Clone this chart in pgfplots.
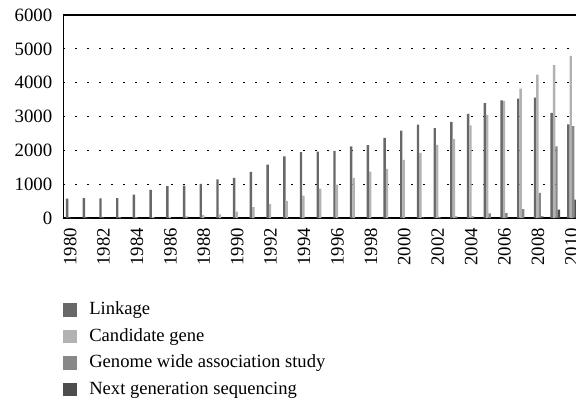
\documentclass[border=0pt]{standalone}
\usepackage{fontspec}
\setmainfont{Liberation Serif}
\usepackage{pgfplots}
\pgfplotsset{compat=1.18}
\definecolor{clink}{HTML}{686868}
\definecolor{ccand}{HTML}{B2B2B2}
\definecolor{cgwas}{HTML}{888888}
\definecolor{cngs}{HTML}{4D4D4D}
\begin{document}
\begin{tikzpicture}
\begin{axis}[
  at={(31.65pt,92pt)}, anchor=south west,
  scale only axis, width=258.35pt, height=101.5pt,
  xmin=1979.557, xmax=2010.48, ymin=0, ymax=6000,
  ytick={0,1000,...,6000},
  xtick={1980,1982,...,2010},
  /pgf/number format/assume math mode=true,
  x tick label style={/pgf/number format/1000 sep={}, xshift=-0.3pt, yshift=-1.5pt, rotate=90, anchor=east},
  y tick label style={/pgf/number format/1000 sep={}, xshift=-2pt},
  major tick length=0pt,
  axis line style={line width=0.7pt},
  ymajorgrids,
  grid style={black, line width=0.6pt, dash pattern=on 0.6pt off 5.4pt},
  tick label style={font=\fontsize{9.4}{11}\selectfont},
  ybar=0pt, bar width=1.2pt,
  legend image code/.code={\fill[#1,draw=none] (0pt,-3.35pt) rectangle (7pt,3.35pt); \path (13pt,0pt);},
  legend style={at={(0,-0.412)}, anchor=north west, draw=none, fill=none,
    inner sep=0pt, outer sep=0pt, row sep=5pt,
    font=\fontsize{9.3}{11}\selectfont,
    nodes={inner sep=0pt, text height=6.5pt, text depth=1.8pt}},
  legend cell align=left,
]
\addplot[fill=clink, draw=none] coordinates {
(1980,570) (1981,590) (1982,580) (1983,590) (1984,690) (1985,830) (1986,940)
(1987,960) (1988,1010) (1989,1145) (1990,1183) (1991,1360) (1992,1575) (1993,1820)
(1994,1948) (1995,1965) (1996,1985) (1997,2115) (1998,2155) (1999,2370) (2000,2580)
(2001,2760) (2002,2660) (2003,2840) (2004,3075) (2005,3395) (2006,3480) (2007,3530)
(2008,3555) (2009,3105) (2010,2770)};
\addplot[fill=ccand, draw=none] coordinates {
(1980,10) (1981,10) (1982,10) (1983,15) (1984,20) (1985,25) (1986,35)
(1987,60) (1988,85) (1989,110) (1990,185) (1991,320) (1992,410) (1993,508)
(1994,665) (1995,865) (1996,985) (1997,1185) (1998,1370) (1999,1455) (2000,1720)
(2001,1925) (2002,2160) (2003,2330) (2004,2735) (2005,3040) (2006,3460) (2007,3825)
(2008,4235) (2009,4520) (2010,4795)};
\addplot[fill=cgwas, draw=none] coordinates {
(1980,0) (1981,0) (1982,0) (1983,0) (1984,0) (1985,0) (1986,0)
(1987,0) (1988,0) (1989,0) (1990,0) (1991,0) (1992,0) (1993,0)
(1994,0) (1995,0) (1996,0) (1997,0) (1998,0) (1999,0) (2000,5)
(2001,10) (2002,30) (2003,50) (2004,50) (2005,140) (2006,145) (2007,260)
(2008,740) (2009,2115) (2010,2715)};
\addplot[fill=cngs, draw=none] coordinates {
(1980,0) (1981,0) (1982,0) (1983,0) (1984,0) (1985,0) (1986,0)
(1987,0) (1988,0) (1989,0) (1990,0) (1991,0) (1992,0) (1993,0)
(1994,0) (1995,0) (1996,0) (1997,0) (1998,0) (1999,0) (2000,0)
(2001,0) (2002,0) (2003,0) (2004,0) (2005,0) (2006,0) (2007,0)
(2008,50) (2009,250) (2010,540)};
\legend{Linkage, Candidate gene, Genome wide association study, Next generation sequencing}
\end{axis}
\pgfresetboundingbox
\path[use as bounding box] (0pt,0pt) rectangle (288pt,201pt);
\end{tikzpicture}
\end{document}
